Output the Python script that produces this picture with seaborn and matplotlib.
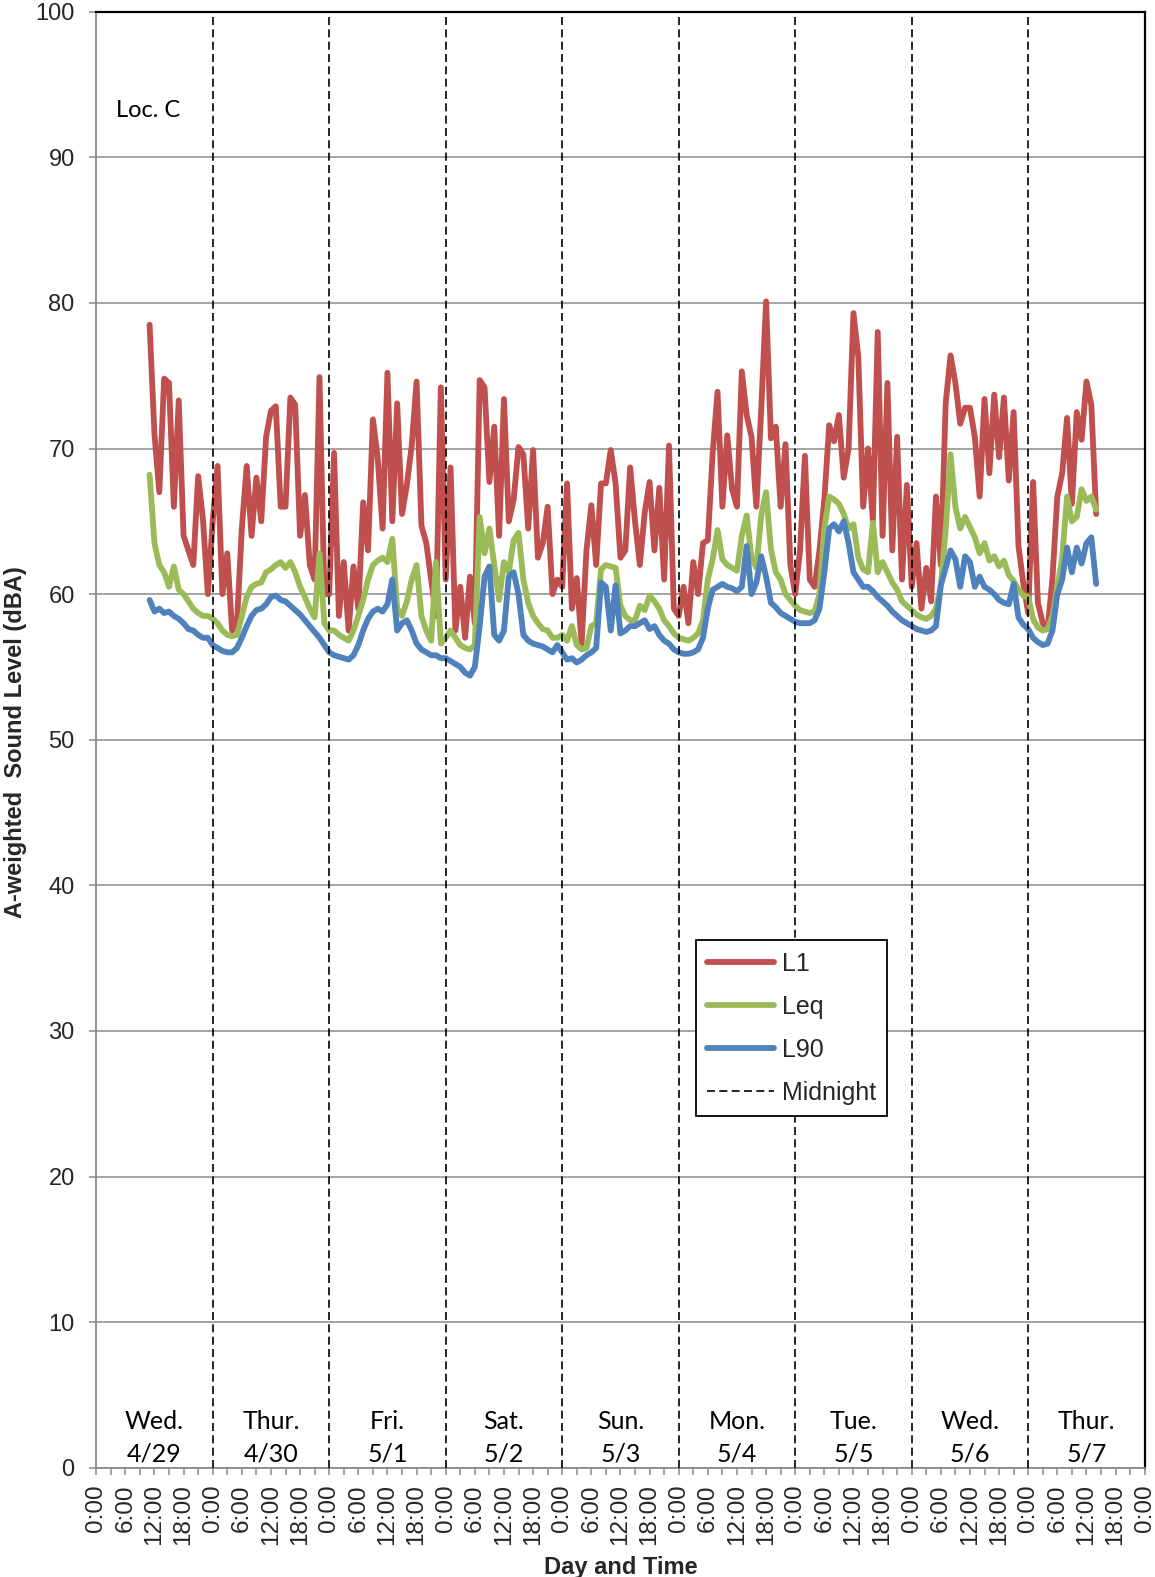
import numpy as np
import pandas as pd
import matplotlib
matplotlib.use("Agg")
import matplotlib.pyplot as plt
import seaborn as sns
from matplotlib.lines import Line2D
from matplotlib.ticker import FixedLocator, FixedFormatter

# ---------------- data (hourly readings, first one at 4/29 11:00) ----------------
start_hour = 11

l1 = [
    78.5, 71, 67, 74.8, 74.5, 66, 73.3, 64, 63, 62, 68.1, 65.1, 60,
    65, 68.8, 60, 62.8, 57.5, 58, 64.5, 68.8, 64, 68, 65, 70.8, 72.6, 72.9, 66, 66, 73.5, 73, 64, 66.8, 62, 61, 74.9, 60,
    60, 69.7, 58.5, 62.2, 57.5, 61.9, 59, 66.3, 63, 72, 69.3, 64.5, 75.2, 65, 73.1, 65.5, 67.5, 70.2, 74.6, 64.7, 63.5, 61, 58.5, 74.2,
    61, 68.7, 57.5, 60.5, 57, 61.2, 58, 74.7, 74.2, 67.7, 71.5, 64, 73.4, 65, 66.5, 70.1, 69.6, 64.5, 69.9, 62.5, 63.5, 66, 60,
    61, 60.5, 67.6, 59, 61.1, 56.6, 63, 66.1, 62, 67.6, 67.6, 69.9, 67.6, 62.5, 63, 68.7, 65, 62, 65.6, 67.7, 63, 67.3, 61, 70.2,
    59, 58.5, 60.5, 58, 62.2, 60, 63.5, 63.7, 69.7, 73.9, 66, 70.9, 67.2, 66, 75.3, 72.3, 70.8, 66, 72.7, 80.1, 70.7, 71.5, 66, 70.3,
    62, 60, 63, 69.5, 61, 60.5, 63, 66.5, 71.6, 70.5, 72.3, 68, 70, 79.3, 76.3, 66, 70, 65, 78, 64, 74.5, 63, 70.8, 61,
    67.5, 60.5, 63.5, 59, 61.8, 59.5, 66.7, 62, 73.1, 76.4, 74.5, 71.7, 72.8, 72.8, 70.8, 66.7, 73.4, 68.3, 73.7, 69.4, 73.5, 67.8, 72.5, 63.3, 60.7,
    58.7, 67.7, 59.4, 58, 57.6, 61.1, 66.7, 68.3, 72.1, 66.2, 72.5, 70.6, 74.6, 73, 65.5,
]

leq = [
    68.2, 63.5, 62, 61.5, 60.5, 61.9, 60.3, 60, 59.5, 59, 58.7, 58.5, 58.5,
    58.3, 58, 57.5, 57.2, 57.1, 57.2, 58.5, 59.8, 60.5, 60.7, 60.8, 61.5, 61.7, 62, 62.2, 61.8, 62.2, 61.5, 60.5, 59.8, 59, 58.4, 62.8, 58,
    57.5, 57.5, 57.2, 57, 56.8, 57.5, 58.5, 59.6, 61, 62, 62.3, 62.5, 62.2, 63.8, 59, 58.5, 59.5, 61, 62, 58.5, 57.5, 56.8, 62.2, 56.6,
    57, 57.5, 57, 56.5, 56.3, 56.2, 56.5, 65.3, 62.8, 64.5, 62, 59.6, 62.2, 61.5, 63.7, 64.2, 61, 59.4, 58.5, 58, 57.6, 57.5, 57,
    57, 57.2, 56.8, 57.8, 56.5, 56.2, 56.3, 57.8, 58, 61.7, 62, 61.9, 61.8, 59.2, 58.5, 58.2, 58.2, 59.2, 58.9, 59.9, 59.5, 59, 58.2, 57.8,
    57.3, 57, 56.9, 56.8, 57, 57.3, 58.2, 61, 62.4, 64.4, 62.4, 62, 61.8, 61.6, 64, 65.4, 62.5, 61.8, 65.4, 67, 63.1, 61.5, 61, 60,
    59.6, 59.2, 58.9, 58.8, 58.7, 58.8, 60, 64.5, 66.7, 66.5, 66.2, 65.5, 64.5, 64.8, 62.5, 61.7, 61.5, 64.9, 61.5, 62.2, 61.5, 60.8, 60.3, 59.5,
    59.2, 58.9, 58.6, 58.4, 58.3, 58.5, 59, 60.6, 64.4, 69.6, 66, 64.5, 65.3, 64.6, 63.9, 62.8, 63.5, 62.3, 62.6, 61.9, 62.3, 61.3, 60.9, 60.3, 59.9,
    59.8, 58.3, 57.7, 57.5, 57.6, 58.5, 60.5, 62.5, 66.7, 65, 65.3, 67.2, 66.4, 66.7, 65.8,
]

l90 = [
    59.6, 58.8, 59, 58.7, 58.8, 58.5, 58.3, 58, 57.6, 57.5, 57.2, 57, 57,
    56.5, 56.3, 56.1, 56, 56, 56.3, 57, 57.8, 58.5, 58.9, 59, 59.3, 59.8, 59.9, 59.6, 59.5, 59.2, 58.9, 58.6, 58.2, 57.8, 57.4, 57, 56.5,
    56, 55.8, 55.7, 55.6, 55.5, 55.8, 56.5, 57.5, 58.3, 58.8, 59, 58.8, 59.3, 61, 57.5, 58, 58.2, 57.5, 56.6, 56.2, 56, 55.8, 55.8, 55.6,
    55.6, 55.4, 55.2, 55, 54.6, 54.4, 55, 57.8, 61.2, 61.9, 57.2, 56.8, 57.5, 61.2, 61.5, 60, 57.2, 56.8, 56.6, 56.5, 56.4, 56.2, 56,
    56.5, 56, 55.5, 55.6, 55.3, 55.5, 55.8, 56, 56.3, 60.8, 60.5, 57.5, 60.6, 57.3, 57.5, 57.8, 57.8, 58, 58.2, 57.6, 57.8, 57.2, 56.8, 56.6,
    56.2, 56, 55.9, 55.9, 56, 56.2, 57, 59, 60.3, 60.5, 60.7, 60.5, 60.4, 60.2, 60.5, 63.3, 60, 60.8, 62.6, 61.2, 59.4, 59.1, 58.7, 58.5,
    58.3, 58.1, 58, 58, 58, 58.2, 59, 61.5, 64.5, 64.8, 64.3, 65, 63.5, 61.5, 61, 60.5, 60.5, 60.2, 59.8, 59.5, 59.2, 58.8, 58.5, 58.2,
    58, 57.8, 57.6, 57.5, 57.4, 57.5, 57.8, 60.6, 61.8, 63, 62.4, 60.5, 62.6, 62.2, 60.5, 61.2, 60.5, 60.3, 60, 59.6, 59.4, 59.3, 60.7, 58.4, 57.9,
    57.6, 57, 56.7, 56.5, 56.6, 57.5, 60, 61, 63.2, 61.5, 63.2, 62.1, 63.5, 63.9, 60.7,
]

series_names = ["L1", "Leq", "L90"]
series_colors = ["#C0504D", "#9BBB59", "#4F81BD"]
day_names = ["Wed.", "Thur.", "Fri.", "Sat.", "Sun.", "Mon.", "Tue.", "Wed.", "Thur."]
day_dates = ["4/29", "4/30", "5/1", "5/2", "5/3", "5/4", "5/5", "5/6", "5/7"]
hour_labels = ["0:00", "6:00", "12:00", "18:00"]
y_ticks = [0, 10, 20, 30, 40, 50, 60, 70, 80, 90, 100]

# ---------------- build frame ----------------
hours = start_hour + np.arange(len(l1))
df = pd.DataFrame({"hour": hours, "L1": l1, "Leq": leq, "L90": l90})
long_df = df.melt(id_vars="hour", var_name="series", value_name="dBA")

sns.set_theme(style="white")
plt.rcParams["font.family"] = ["Liberation Sans", "DejaVu Sans"]
calibri_like = ["Lato", "DejaVu Sans"]

W, H = 1155, 1577
fig = plt.figure(figsize=(W / 100, H / 100), dpi=100)
left_px, right_px, top_px, bottom_px = 96.2, 1144.7, 11.7, 1467.7
ax = fig.add_axes([left_px / W, 1 - bottom_px / H, (right_px - left_px) / W, (bottom_px - top_px) / H])

n_days = len(day_names)
total_hours = 24 * n_days
LW = 4.2

sns.lineplot(data=long_df, x="hour", y="dBA", hue="series", hue_order=series_names,
             palette=dict(zip(series_names, series_colors)), linewidth=LW,
             estimator=None, sort=False, legend=False, ax=ax,
             solid_joinstyle="round", solid_capstyle="round", zorder=3)

# midnight markers
dash = (0, (4.8, 2.6))
for d in range(1, n_days):
    ax.axvline(24 * d, color="black", lw=1.2, ls=dash, zorder=6)

ax.set_xlim(0, total_hours)
ax.set_ylim(0, 100)

# grid
ax.set_axisbelow(True)
ax.yaxis.grid(True, color="#8a8a8a", lw=1.1)
ax.xaxis.grid(False)

# ticks
major = list(range(0, total_hours + 1, 6))
minor = list(range(0, total_hours + 1, 3))
ax.xaxis.set_major_locator(FixedLocator(major))
ax.xaxis.set_major_formatter(FixedFormatter([hour_labels[(h // 6) % 4] for h in major]))
ax.xaxis.set_minor_locator(FixedLocator(minor))
ax.set_yticks(y_ticks)
ax.set_yticklabels([str(v) for v in y_ticks])
ax.tick_params(axis="x", which="both", direction="out", length=5, width=1.1,
               color="#8a8a8a", bottom=True)
ax.tick_params(axis="x", which="major", labelsize=17.5, labelrotation=90, pad=7)
ax.tick_params(axis="y", direction="out", length=5, width=1.1, color="#8a8a8a",
               labelsize=17, pad=10.5, left=True)
ax.set_xlabel("")
ax.set_ylabel("")

for s in ["left", "bottom"]:
    ax.spines[s].set_color("#8a8a8a")
    ax.spines[s].set_linewidth(1.3)
for s in ["top", "right"]:
    ax.spines[s].set_color("black")
    ax.spines[s].set_linewidth(1.6)

# day labels
for d in range(n_days):
    ax.text(24 * d + 12, 3.15, day_names[d], ha="center", va="center",
            fontsize=18, family=calibri_like, color="black")
    ax.text(24 * d + 12, 0.95, day_dates[d], ha="center", va="center",
            fontsize=18, family=calibri_like, color="black")

ax.text(4.1, 93.2, "Loc. C", ha="left", va="center", fontsize=17,
        family=calibri_like, color="black")

# legend
handles = [Line2D([0], [0], color=c, lw=LW, solid_capstyle="round") for c in series_colors]
handles.append(Line2D([0], [0], color="black", lw=1.2, ls=dash))
labels = series_names + ["Midnight"]
leg = ax.legend(handles, labels, loc="upper left", bbox_to_anchor=(0.572, 0.3624),
                frameon=True, fancybox=False, shadow=False, edgecolor="black",
                facecolor="white", framealpha=1, fontsize=18, handlelength=2.65,
                handletextpad=0.32, labelspacing=0.76, borderpad=0.46, borderaxespad=0)
leg.get_frame().set_linewidth(1.3)
leg.set_zorder(10)

# axis titles
fig.text(16 / W, 1 - 742 / H, "A-weighted  Sound Level (dBA)", rotation=90,
         ha="center", va="center", fontsize=17, fontweight="bold")
fig.text(620.5 / W, 1 - 1574 / H, "Day and Time", ha="center", va="baseline",
         fontsize=17, fontweight="bold")

fig.savefig("out.png", dpi=100)
